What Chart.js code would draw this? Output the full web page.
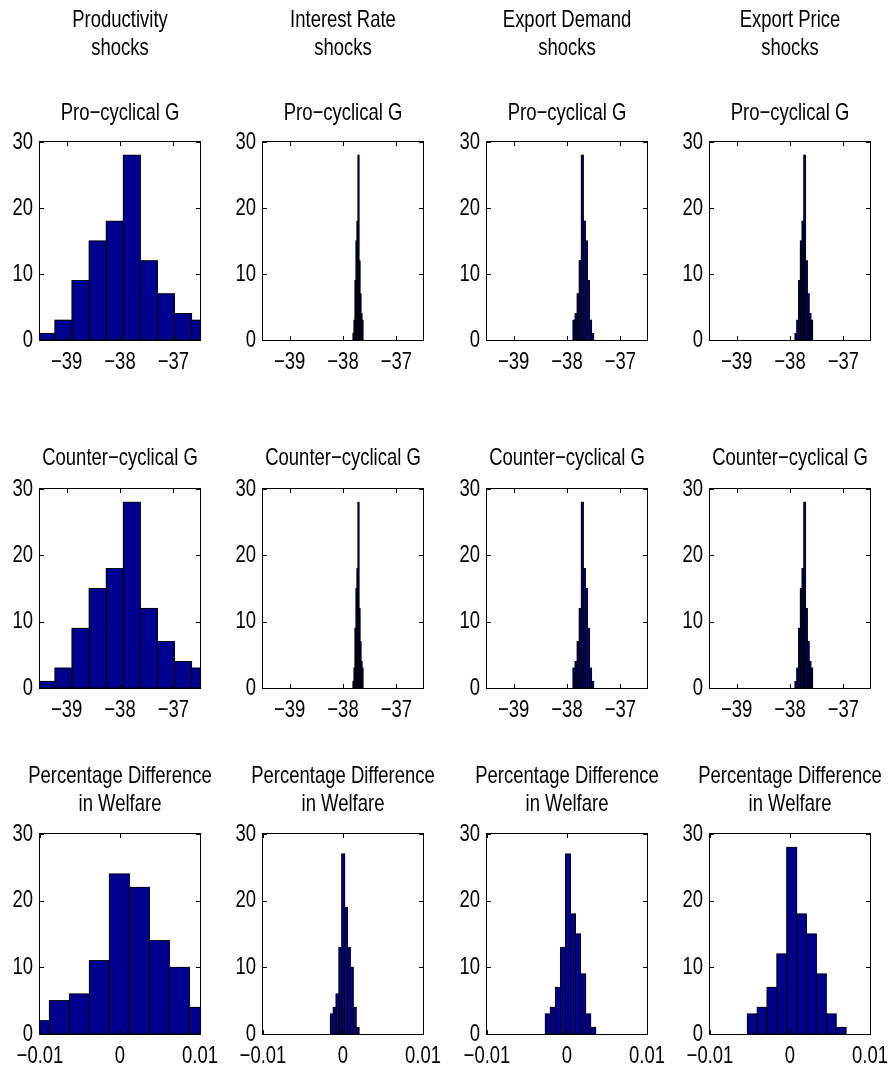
<!DOCTYPE html>
<html><head><meta charset="utf-8">
<script src="https://cdn.jsdelivr.net/npm/chart.js@4.4.1/dist/chart.umd.min.js"></script>
<style>
html,body{margin:0;padding:0;background:#fff;}
#wrap{position:relative;width:889px;height:1079px;overflow:hidden;background:#fff;}
#wrap canvas{position:absolute;}
</style></head><body><div id="wrap"></div>
<script>
// ---------- text ----------
const shockHeaders = [['Productivity','shocks'],['Interest Rate','shocks'],['Export Demand','shocks'],['Export Price','shocks']];
const rowTitles = ['Pro\u2212cyclical G','Counter\u2212cyclical G',['Percentage Difference','in Welfare']];

// ---------- axes ----------
const yTicks = [0,10,20,30];
const yRange = [0,30];
const shockXTicks = [-39,-38,-37];
const shockXRange = [-39.5,-36.5];
const welfareXTicks = [-0.01,0,0.01];
const welfareXRange = [-0.01,0.01];

// ---------- rows 1-2 (Pro-cyclical G / Counter-cyclical G), bin centres and counts ----------
const productivityBins  = [-39.379,-39.059,-38.739,-38.418,-38.098,-37.778,-37.458,-37.137,-36.817,-36.497];
const productivityCounts = [1,3,9,15,18,28,12,7,4,3];
const interestBins  = [-37.8031,-37.7844,-37.7656,-37.7469,-37.7281,-37.7094,-37.6906,-37.6719,-37.6531,-37.6344];
const interestCounts = [1,3,9,15,18,28,12,7,4,3];
const exportDemandBins  = [-37.8676,-37.8289,-37.7902,-37.7515,-37.7128,-37.6741,-37.6354,-37.5967,-37.5580,-37.5193];
const exportDemandCounts = [3,4,7,12,28,18,15,9,3,1];
const exportPriceBins  = [-37.8895,-37.8564,-37.8233,-37.7902,-37.7571,-37.7240,-37.6909,-37.6578,-37.6247,-37.5916];
const exportPriceCounts = [1,3,9,15,18,28,12,7,4,3];

// ---------- row 3 (Percentage Difference in Welfare) ----------
const welfareProductivityBins  = [-0.01008,-0.00758,-0.00508,-0.00258,-0.00008,0.00242,0.00492,0.00742,0.00992];
const welfareProductivityCounts = [2,5,6,11,24,22,14,10,4];
const welfareInterestBins  = [-0.001401,-0.001043,-0.000685,-0.000327,0.000031,0.000389,0.000747,0.001105,0.001463,0.001821];
const welfareInterestCounts = [3,4,6,13,27,19,13,10,4,1];
const welfareExportDemandBins  = [-0.002395,-0.001765,-0.001135,-0.000505,0.000125,0.000755,0.001385,0.002015,0.002645,0.003275];
const welfareExportDemandCounts = [3,4,7,13,27,18,15,9,3,1];
const welfareExportPriceBins  = [-0.004714,-0.003481,-0.002248,-0.001015,0.000218,0.001451,0.002684,0.003917,0.005150,0.006383];
const welfareExportPriceCounts = [3,4,7,12,28,18,15,9,3,1];

const shockPanels = [
  [productivityBins, productivityCounts],
  [interestBins, interestCounts],
  [exportDemandBins, exportDemandCounts],
  [exportPriceBins, exportPriceCounts]
];
const welfarePanels = [
  [welfareProductivityBins, welfareProductivityCounts],
  [welfareInterestBins, welfareInterestCounts],
  [welfareExportDemandBins, welfareExportDemandCounts],
  [welfareExportPriceBins, welfareExportPriceCounts]
];

// ---------- style ----------
const FONT = "'Liberation Sans',Arial,Helvetica,sans-serif";
const FS = 24;
const SQUEEZE = 0.77;   // the reference uses a horizontally condensed Helvetica
const barFill = 'rgb(0,0,143)';
const colLefts = [0,223,447,670];
const canvasW = 240;
const rows = [
  {top:0,   height:380, title:{pad:{top:6,bottom:0}}, sub:{pad:{top:37,bottom:15}}},
  {top:400, height:328, title:{pad:{top:44,bottom:17}}},
  {top:740, height:334, title:{pad:{top:22,bottom:16}}}
];

function condenseText(ctx, s){
  const orig = ctx.fillText;
  ctx.fillText = function(text, x, y){
    this.save();
    this.translate(x, y);
    this.scale(s, 1);
    orig.call(this, text, 0, 0);
    this.restore();
  };
}

// bar edges (MATLAB-style black outlines) + axes box with inward ticks
const boxPlugin = {
  id:'matlabBox',
  afterDatasetsDraw(chart){
    const {ctx, chartArea:a, scales} = chart;
    const x = scales.x, y = scales.y;
    ctx.save();
    ctx.beginPath();
    ctx.rect(a.left, a.top - 1, a.right - a.left, a.bottom - a.top + 2);
    ctx.clip();
    ctx.strokeStyle = '#000';
    ctx.lineWidth = 0.9;
    chart.getDatasetMeta(0).data.forEach(el => {
      const p = el.getProps(['x','y','base','width'], true);
      ctx.strokeRect(p.x - p.width/2, p.y, p.width, p.base - p.y);
    });
    ctx.restore();

    ctx.save();
    ctx.strokeStyle = '#000';
    ctx.lineWidth = 1;
    ctx.strokeRect(a.left-0.5, a.top-0.5, a.right-a.left+1, a.bottom-a.top+1);
    ctx.beginPath();
    const L = 4;
    x.ticks.forEach(t => {
      const px = Math.round(x.getPixelForValue(t.value)) + 0.5;
      ctx.moveTo(px, a.bottom); ctx.lineTo(px, a.bottom - L);
      ctx.moveTo(px, a.top); ctx.lineTo(px, a.top + L);
    });
    y.ticks.forEach(t => {
      const py = Math.round(y.getPixelForValue(t.value)) + 0.5;
      ctx.moveTo(a.left, py); ctx.lineTo(a.left + L, py);
      ctx.moveTo(a.right, py); ctx.lineTo(a.right - L, py);
    });
    ctx.stroke();
    ctx.restore();
  }
};

function fmt(v){ return String(v).replace('-', '\u2212'); }

function makePanel(rowIdx, colIdx, bins, counts, xTicks, xRange){
  const r = rows[rowIdx];
  const cv = document.createElement('canvas');
  cv.width = canvasW; cv.height = r.height;
  cv.style.left = colLefts[colIdx] + 'px';
  cv.style.top = r.top + 'px';
  cv.style.width = canvasW + 'px'; cv.style.height = r.height + 'px';
  document.getElementById('wrap').appendChild(cv);
  condenseText(cv.getContext('2d'), SQUEEZE);

  let titleText, subtitle;
  if (rowIdx === 0) {
    titleText = shockHeaders[colIdx];
    subtitle = {display:true, text: rowTitles[0], color:'#000', fullSize:true,
      font:{family:FONT, size:FS, lineHeight:'28px', weight:'normal'}, padding:r.sub.pad};
  } else {
    titleText = rowTitles[rowIdx];
    subtitle = {display:false};
  }

  new Chart(cv, {
    type:'bar',
    data:{
      datasets:[{
        data: bins.map((b,i) => ({x:b, y:counts[i]})),
        backgroundColor: barFill,
        borderWidth: 0,
        inflateAmount: 0.3,
        barPercentage: 1,
        categoryPercentage: 1,
        clip: 0
      }]
    },
    options:{
      responsive:false,
      animation:false,
      devicePixelRatio:1,
      layout:{padding:0},
      plugins:{
        legend:{display:false},
        tooltip:{enabled:false},
        title:{display:true, text:titleText, color:'#000', fullSize:true,
          font:{family:FONT, size:FS, lineHeight:'28px', weight:'normal'}, padding:r.title.pad},
        subtitle: subtitle
      },
      scales:{
        x:{
          type:'linear', min:xRange[0], max:xRange[1], offset:false,
          grid:{display:false, drawTicks:false, offset:false},
          border:{display:false},
          afterBuildTicks: s => { s.ticks = xTicks.map(v => ({value:v})); },
          afterFit: s => { s.height = 40; },
          ticks:{color:'#000', padding:8, maxRotation:0, autoSkip:false,
            font:{family:FONT, size:FS, lineHeight:'28px'}, callback: v => fmt(v)}
        },
        y:{
          type:'linear', min:yRange[0], max:yRange[1],
          grid:{display:false, drawTicks:false},
          border:{display:false},
          afterBuildTicks: s => { s.ticks = yTicks.map(v => ({value:v})); },
          afterFit: s => { s.width = 40; },
          ticks:{color:'#000', padding:7, font:{family:FONT, size:FS, lineHeight:'28px'}, callback: v => fmt(v)}
        },
        y2:{
          type:'linear', position:'right', display:true,
          grid:{display:false, drawTicks:false}, border:{display:false},
          ticks:{display:false},
          afterFit: s => { s.width = 40; }
        }
      }
    },
    plugins:[boxPlugin]
  });
}

for (let c = 0; c < 4; c++) {
  makePanel(0, c, shockPanels[c][0], shockPanels[c][1], shockXTicks, shockXRange);
  makePanel(1, c, shockPanels[c][0], shockPanels[c][1], shockXTicks, shockXRange);
  makePanel(2, c, welfarePanels[c][0], welfarePanels[c][1], welfareXTicks, welfareXRange);
}
</script></body></html>
